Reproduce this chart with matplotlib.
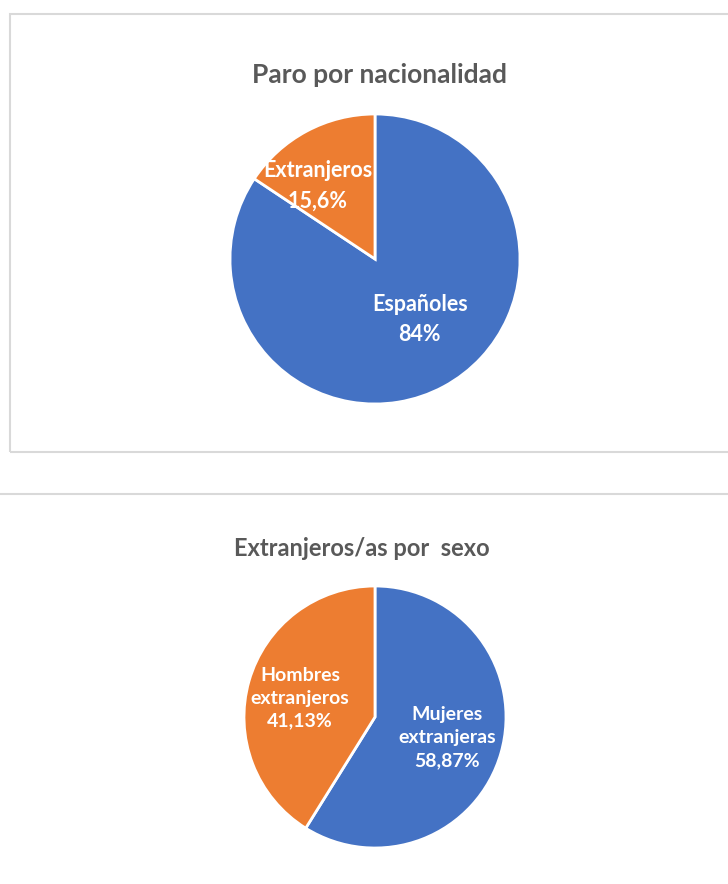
import math
import numpy as np
import matplotlib as mpl
import matplotlib.pyplot as plt
from matplotlib.patches import Rectangle
from matplotlib.lines import Line2D

mpl.rcParams['font.family'] = ['Lato', 'DejaVu Sans']

# datos
nac_labels = ['Españoles', 'Extranjeros']
nac_values = [84, 15.6]
sexo_labels = ['Mujeres\nextranjeras', 'Hombres\nextranjeros']
sexo_values = [58.87, 41.13]
colors = ['#4472C4', '#ED7D31']

W, H = 728, 884


def fmt(v):
    return '{0:g}'.format(v).replace('.', ',') + '%'


def px_axes(fig, cx, cy, r):
    # eje cuadrado en pixeles, origen arriba a la izquierda
    return fig.add_axes([(cx - r) / W, (H - cy - r) / H, 2 * r / W, 2 * r / H])


def draw_pie(ax, labels, values, label_pos, fontsize, linespacing):
    ax.pie(values, colors=colors, startangle=90, counterclock=False,
           wedgeprops=dict(edgecolor='white', linewidth=2), radius=1)
    for lab, v, (ang, r) in zip(labels, values, label_pos):
        a = math.radians(ang)
        ax.text(r * math.cos(a), r * math.sin(a), lab + '\n' + fmt(v),
                ha='center', va='center', color='white', fontweight='bold',
                fontsize=fontsize, linespacing=linespacing)
    ax.set_xlim(-1.02, 1.02)
    ax.set_ylim(-1.02, 1.02)
    ax.axis('off')


fig = plt.figure(figsize=(W / 100, H / 100), dpi=100)

# marco del primer grafico
fig.add_artist(Rectangle((10 / W, 1 - 452 / H), 730 / W, 438 / H,
                         transform=fig.transFigure, fill=False,
                         edgecolor='#d9d9d9', linewidth=1.5))
fig.add_artist(Line2D([0, 1], [1 - 494 / H, 1 - 494 / H],
                      transform=fig.transFigure, color='#d9d9d9', linewidth=1.5))

fig.text(379 / W, 1 - 75 / H, 'Paro por nacionalidad', ha='center', va='center',
         fontsize=19, fontweight='bold', color='#595959')
fig.text(362 / W, 1 - 549 / H, 'Extranjeros/as por  sexo', ha='center', va='center',
         fontsize=17, fontweight='bold', color='#595959')

ax1 = px_axes(fig, 375, 259, 145 * 1.02)
draw_pie(ax1, nac_labels, nac_values, [(-53.6, 0.52), (128, 0.64)], 15.5, 1.55)

ax2 = px_axes(fig, 375, 717, 131 * 1.02)
draw_pie(ax2, sexo_labels, sexo_values, [(-16, 0.57), (166, 0.59)], 14, 1.42)

plt.savefig('out.png', dpi=100)
